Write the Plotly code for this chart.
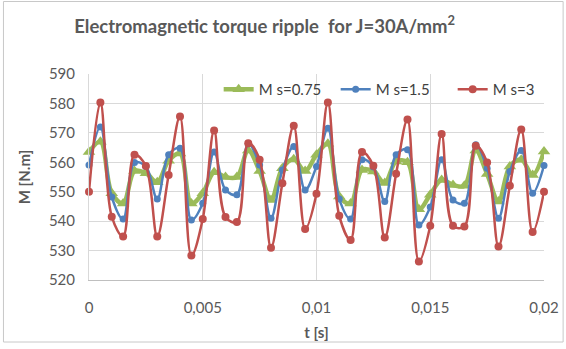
import plotly.graph_objects as go

t = [i * 0.0005 for i in range(41)]

m_075 = [563.5, 567, 549.5, 546, 557, 556.3, 553.2, 560.5, 563, 546,
         549.5, 556.6, 555, 555, 564, 557, 547.2, 558, 561, 557,
         562.6, 566.3, 548.4, 546, 557.4, 556.9, 553, 560.3, 560, 544,
         549, 554, 552.3, 552, 564, 556, 546.7, 558.6, 560.9, 555.7, 563.7]

m_15 = [559.1, 572, 548.2, 540.7, 559.9, 558.6, 547.5, 562.6, 564.8, 540.4,
        546.1, 563.5, 550.6, 549, 566.3, 559.1, 541, 557.4, 565.4, 550.6,
        558.6, 571.6, 547.5, 540.7, 560.9, 558.4, 546.7, 562.6, 564.3, 538.7,
        544.8, 560.9, 547.2, 546.1, 566, 558, 541, 556.9, 564, 549.5, 558.9]

m_3 = [550, 580.3, 541.5, 534.8, 562.6, 558.7, 534.8, 555.7, 575.6, 528.3,
       540.7, 570.8, 541.4, 539.7, 566.5, 560.9, 531.0, 552.9, 572.4, 537.3,
       549.3, 580.3, 541.8, 533.6, 563.5, 558.8, 534.4, 556.1, 574.5, 526.3,
       538.4, 569.6, 538.4, 538.2, 565.6, 559.9, 531.4, 552.0, 571.1, 536.3, 550.0]

series_names = ["M s=0.75", "M s=1.5", "M s=3"]
x_ticks = [0, 0.005, 0.01, 0.015, 0.02]
y_ticks = [520, 530, 540, 550, 560, 570, 580, 590]

FONT = "Lato"
GRAY = "#595959"

fig = go.Figure()
fig.add_trace(go.Scatter(
    x=t, y=m_075, name=series_names[0], mode="lines+markers", cliponaxis=False,
    line=dict(color="#9BBB59", width=4.5, shape="spline", smoothing=1),
    marker=dict(symbol="triangle-up", size=11, color="#9BBB59")))
fig.add_trace(go.Scatter(
    x=t, y=m_15, name=series_names[1], mode="lines+markers", cliponaxis=False,
    line=dict(color="#4F81BD", width=2.5, shape="spline", smoothing=1),
    marker=dict(symbol="circle", size=7, color="#4F81BD")))
fig.add_trace(go.Scatter(
    x=t, y=m_3, name=series_names[2], mode="lines+markers", cliponaxis=False,
    line=dict(color="#C0504D", width=2.5, shape="spline", smoothing=1),
    marker=dict(symbol="circle", size=8, color="#C0504D")))

fig.update_layout(
    width=566, height=349,
    margin=dict(l=89, r=22, t=74, b=69, autoexpand=False),
    paper_bgcolor="white", plot_bgcolor="white",
    separators=",.",
    font=dict(family=FONT, color=GRAY, size=15),
    title=dict(text="<b>Electromagnetic torque ripple  for J=30A/mm<sup>2</sup></b>",
               xref="paper", x=0.386, xanchor="center", y=0.925, yanchor="middle",
               font=dict(family=FONT, size=18.5, color=GRAY)),
    showlegend=True,
    legend=dict(orientation="h", x=0.285, xanchor="left", y=0.925, yanchor="middle",
                bgcolor="rgba(0,0,0,0)", font=dict(family=FONT, size=15, color="#404040"),
                itemwidth=30, entrywidth=72, traceorder="normal"),
    xaxis=dict(range=[0, 0.02], tickvals=x_ticks, tickformat="~g",
               showgrid=True, gridcolor="#D9D9D9", gridwidth=1,
               showline=True, linecolor="#BFBFBF", linewidth=1,
               zeroline=False, ticks="", ticklabelstandoff=14,
               title=dict(text="<b>t [s]</b>", standoff=12,
                          font=dict(family=FONT, size=15, color=GRAY))),
    yaxis=dict(range=[520, 590], tickvals=y_ticks,
               showgrid=True, gridcolor="#D9D9D9", gridwidth=1,
               showline=True, linecolor="#D9D9D9", linewidth=1,
               zeroline=False, ticks="", ticklabelstandoff=10,
               title=dict(text="<b>M [N.m]</b>", standoff=14,
                          font=dict(family=FONT, size=15, color=GRAY))),
    shapes=[dict(type="rect", xref="paper", yref="paper",
                 x0=-0.188, x1=1.042, y0=-0.301, y1=1.352,
                 line=dict(color="#C8C8C8", width=1), fillcolor="rgba(0,0,0,0)",
                 layer="above")],
)

fig.write_html("out.html", config={"displayModeBar": False},
               post_script="document.body.style.margin='0';document.body.style.overflow='hidden';")
